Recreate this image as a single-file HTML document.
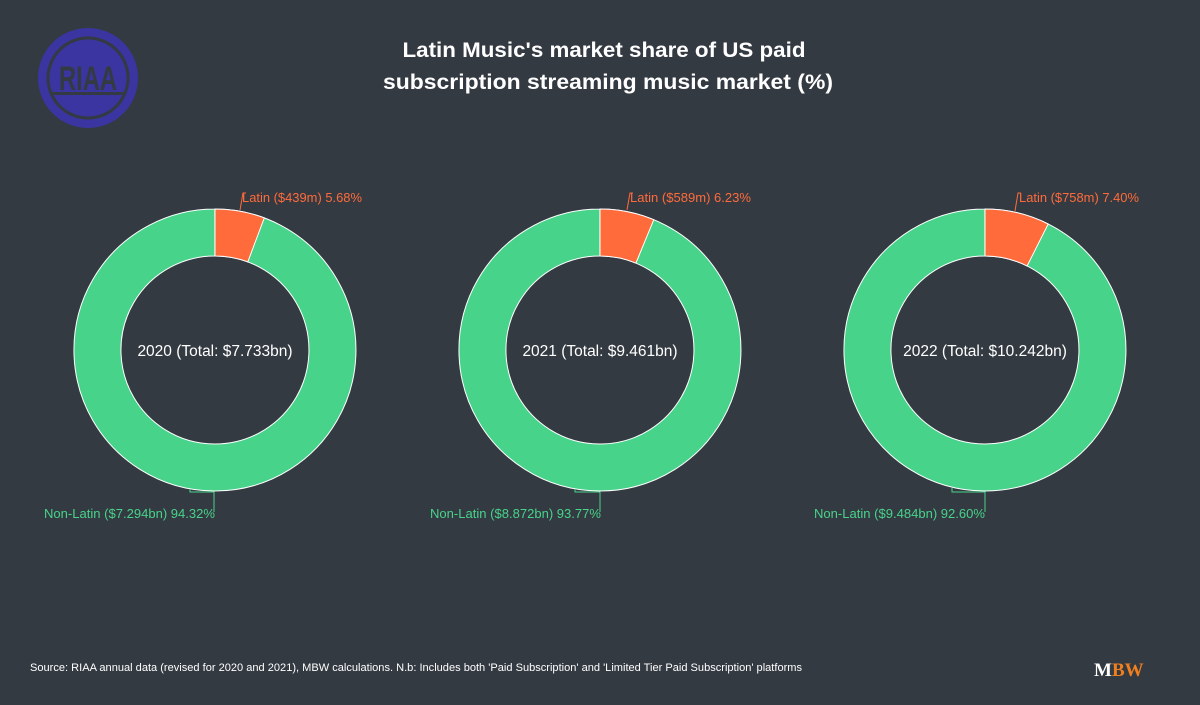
<!DOCTYPE html>
<html><head><meta charset="utf-8"><style>
body{margin:0;background:#343a42;width:1200px;height:700px;overflow:hidden;font-family:"Liberation Sans",sans-serif}
</style></head><body>
<svg width="1200" height="700" viewBox="0 0 1200 700" xmlns="http://www.w3.org/2000/svg" font-family="Liberation Sans, sans-serif">
<rect width="1200" height="700" fill="#343a42"/>
<!-- logo -->
<circle cx="88" cy="78" r="50" fill="#3a35a0"/>
<circle cx="88" cy="78" r="40" fill="none" stroke="#343a42" stroke-width="3"/>
<rect x="52" y="92" width="72" height="3" fill="#343a42"/>
<text x="88" y="90" text-anchor="middle" font-size="34" font-weight="bold" fill="#343a42" textLength="58" lengthAdjust="spacingAndGlyphs">RIAA</text>
<text x="604" y="57" text-anchor="middle" font-size="21" font-weight="bold" fill="#fff" textLength="403" lengthAdjust="spacingAndGlyphs">Latin Music's market share of US paid</text>
<text x="608" y="89" text-anchor="middle" font-size="21" font-weight="bold" fill="#fff" textLength="450" lengthAdjust="spacingAndGlyphs">subscription streaming music market (%)</text>

<g transform="translate(215,350)">
<path d="M0,-141 A141,141 0 1 1 -0.1,-141 L-0.1,-94 A94,94 0 1 0 0,-94 Z" fill="#47d38a" stroke="#fff" stroke-width="1"/>
<path d="M0,-141 A141,141 0 0 1 49.3,-132.1 L32.8,-88.1 A94,94 0 0 0 0,-94 Z" fill="#ff6b3b" stroke="#fff" stroke-width="1"/>
<text x="0" y="6" text-anchor="middle" font-size="15.5" fill="#fff">2020 (Total: $7.733bn)</text>
</g>
<polyline points="240,210 243,193 246,193" fill="none" stroke="#ff6b3b"/>
<text x="242" y="202" font-size="13" fill="#ff6b3b" textLength="120" lengthAdjust="spacingAndGlyphs">Latin ($439m) 5.68%</text>
<polyline points="190,489 190,492 214,492 214,512" fill="none" stroke="#47d38a"/>
<text x="44" y="518" font-size="13" fill="#47d38a" textLength="171" lengthAdjust="spacingAndGlyphs">Non-Latin ($7.294bn) 94.32%</text>

<g transform="translate(600,350)">
<path d="M0,-141 A141,141 0 1 1 -0.1,-141 L-0.1,-94 A94,94 0 1 0 0,-94 Z" fill="#47d38a" stroke="#fff" stroke-width="1"/>
<path d="M0,-141 A141,141 0 0 1 53.8,-130.3 L35.9,-86.9 A94,94 0 0 0 0,-94 Z" fill="#ff6b3b" stroke="#fff" stroke-width="1"/>
<text x="0" y="6" text-anchor="middle" font-size="15.5" fill="#fff">2021 (Total: $9.461bn)</text>
</g>
<polyline points="627,210 630,193 633,193" fill="none" stroke="#ff6b3b"/>
<text x="630" y="202" font-size="13" fill="#ff6b3b" textLength="121" lengthAdjust="spacingAndGlyphs">Latin ($589m) 6.23%</text>
<polyline points="575,489 575,492 600,492 600,512" fill="none" stroke="#47d38a"/>
<text x="430" y="518" font-size="13" fill="#47d38a" textLength="171" lengthAdjust="spacingAndGlyphs">Non-Latin ($8.872bn) 93.77%</text>

<g transform="translate(985,350)">
<path d="M0,-141 A141,141 0 1 1 -0.1,-141 L-0.1,-94 A94,94 0 1 0 0,-94 Z" fill="#47d38a" stroke="#fff" stroke-width="1"/>
<path d="M0,-141 A141,141 0 0 1 63.2,-126 L42.1,-84 A94,94 0 0 0 0,-94 Z" fill="#ff6b3b" stroke="#fff" stroke-width="1"/>
<text x="0" y="6" text-anchor="middle" font-size="15.5" fill="#fff">2022 (Total: $10.242bn)</text>
</g>
<polyline points="1015,211 1018,193 1021,193" fill="none" stroke="#ff6b3b"/>
<text x="1019" y="202" font-size="13" fill="#ff6b3b" textLength="120" lengthAdjust="spacingAndGlyphs">Latin ($758m) 7.40%</text>
<polyline points="952,488 952,492 985,492 985,512" fill="none" stroke="#47d38a"/>
<text x="814" y="518" font-size="13" fill="#47d38a" textLength="171" lengthAdjust="spacingAndGlyphs">Non-Latin ($9.484bn) 92.60%</text>

<text x="30" y="671" font-size="11" fill="#fff" textLength="772" lengthAdjust="spacingAndGlyphs">Source: RIAA annual data (revised for 2020 and 2021), MBW calculations. N.b: Includes both 'Paid Subscription' and 'Limited Tier Paid Subscription' platforms</text>
<text x="1094" y="676" font-size="19" font-weight="bold" font-family="Liberation Serif, serif" fill="#fff">M<tspan fill="#f07f1e">BW</tspan></text>
</svg>
</body></html>
